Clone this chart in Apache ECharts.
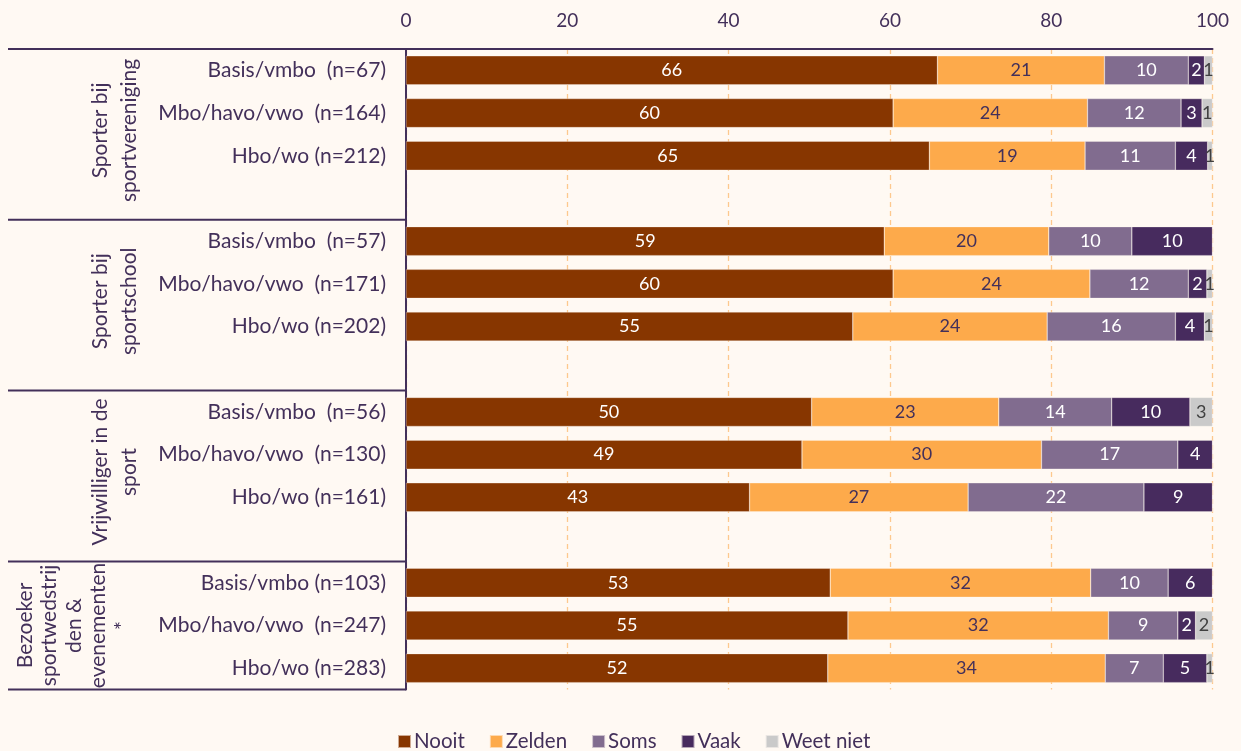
<!DOCTYPE html>
<html>
<head>
<meta charset="utf-8">
<script src="https://cdn.jsdelivr.net/npm/echarts@6/dist/echarts.min.js"></script>
<style>
html,body{margin:0;padding:0;background:#FFF9F3;}
#chart{width:1241px;height:751px;}
</style>
</head>
<body>
<div id="chart"></div>
<script>
// Categories (blank ones are the spacer rows between groups)
const categories = [
  'Basis/vmbo  (n=67)', 'Mbo/havo/vwo  (n=164)', 'Hbo/wo (n=212)', ' ',
  'Basis/vmbo  (n=57)', 'Mbo/havo/vwo  (n=171)', 'Hbo/wo (n=202)', '  ',
  'Basis/vmbo  (n=56)', 'Mbo/havo/vwo  (n=130)', 'Hbo/wo (n=161)', '   ',
  'Basis/vmbo (n=103)', 'Mbo/havo/vwo  (n=247)', 'Hbo/wo (n=283)'
];
const groupLabels = [
  'Sporter bij\nsportvereniging',
  'Sporter bij\nsportschool',
  'Vrijwilliger in de\nsport',
  'Bezoeker\nsportwedstrij\nden &\nevenementen\n*'
];
const seriesNames = ['Nooit', 'Zelden', 'Soms', 'Vaak', 'Weet niet'];
const nooit    = [65.9, 60.4, 64.9, null, 59.3, 60.4, 55.4, null, 50.3, 49.1, 42.6, null, 52.6, 54.8, 52.3];
const zelden   = [20.7, 24.1, 19.3, null, 20.4, 24.4, 24.1, null, 23.2, 29.7, 27.1, null, 32.3, 32.3, 34.4];
const soms     = [10.4, 11.6, 11.2, null, 10.3, 12.2, 15.9, null, 14.0, 16.9, 21.8, null,  9.6,  8.6,  7.2];
const vaak     = [ 2.0,  2.6,  4.0, null, 10.0,  2.3,  3.6, null,  9.7,  4.3,  8.5, null,  5.5,  2.2,  5.4];
const weetNiet = [ 1.0,  1.3,  0.6, null,  0,    0.7,  1.0, null,  2.8,  0,    0,   null,  0,    2.1,  0.7];
const xTicks = [0, 20, 40, 60, 80, 100];

const colors = ['#873600', '#FDAA4B', '#816C8F', '#472B5E', '#CACACA'];
const labelColors = ['#FFFFFF', '#43305A', '#FFFFFF', '#FFFFFF', '#404040'];
const textColor = '#43305A';
const FONT = 'Lato, "Open Sans", sans-serif';

const chart = echarts.init(document.getElementById('chart'), null, {renderer: 'canvas'});
const allData = [nooit, zelden, soms, vaak, weetNiet];

const series = seriesNames.map((name, i) => ({
  name: name,
  type: 'bar',
  stack: 'total',
  barWidth: 29,
  data: allData[i],
  itemStyle: {color: colors[i], borderColor: 'rgba(255,249,243,0.6)', borderWidth: 0.5},
  label: {
    show: true,
    position: 'inside',
    color: labelColors[i],
    fontFamily: FONT,
    fontSize: 18,
    formatter: p => (p.value == null || p.value === 0) ? '' : String(Math.round(p.value))
  },
  emphasis: {disabled: true}
}));

const option = {
  backgroundColor: '#FFF9F3',
  animation: false,
  textStyle: {fontFamily: FONT},
  grid: {left: 406, right: 28.5, top: 49, bottom: 61.5, containLabel: false},
  legend: {
    top: 726,
    left: 392,
    itemWidth: 13,
    itemHeight: 13,
    itemGap: 24,
    icon: 'rect',
    textStyle: {color: textColor, fontSize: 20.5, fontFamily: FONT, padding: [0,0,0,-2]},
    data: seriesNames
  },
  xAxis: {
    type: 'value',
    position: 'top',
    min: 0, max: 100, interval: 20,
    axisLine: {show: true, lineStyle: {color: textColor, width: 2}},
    axisTick: {show: false},
    axisLabel: {color: textColor, fontSize: 19, fontFamily: FONT, margin: 19,
      formatter: v => xTicks.includes(v) ? String(v) : ''},
    splitLine: {show: true, lineStyle: {color: '#FDC88E', type: [5, 4], width: 1.3}}
  },
  yAxis: {
    type: 'category',
    inverse: true,
    data: categories,
    axisLine: {show: true, onZero: false, lineStyle: {color: textColor, width: 2}},
    axisTick: {show: false},
    axisLabel: {color: textColor, fontSize: 21, fontFamily: FONT, margin: 20}
  },
  series: series
};
chart.setOption(option);

// Group labels and table lines computed from the category axis
const yOf = idx => chart.convertToPixel({yAxisIndex: 0}, idx);
const band = yOf(1) - yOf(0);
const groupRanges = [[0, 3], [4, 7], [8, 11], [12, 14]];
const gridLeft = 406;
const graphics = [];
graphics.push({type: 'line', shape: {x1: 8, y1: 49, x2: gridLeft, y2: 49},
  style: {stroke: textColor, lineWidth: 2}, z: 10});
groupRanges.forEach((r, gi) => {
  const yTop = yOf(r[0]) - band / 2;
  const yBot = yOf(r[1]) + band / 2;
  const yc = (yTop + yBot) / 2;
  graphics.push({type: 'line', shape: {x1: 8, y1: yBot, x2: gridLeft, y2: yBot},
    style: {stroke: textColor, lineWidth: 2}, z: 10});
  const isLast = gi === 3;
  graphics.push({
    type: 'text',
    x: isLast ? 74 : 115,
    y: isLast ? yc : yc - 4,
    rotation: Math.PI / 2,
    style: {
      text: groupLabels[gi],
      fill: textColor,
      font: '21px ' + FONT,
      lineHeight: isLast ? 24.5 : 29,
      align: 'center',
      verticalAlign: 'middle'
    },
    z: 10
  });
});
chart.setOption({graphic: graphics});
</script>
</body>
</html>
